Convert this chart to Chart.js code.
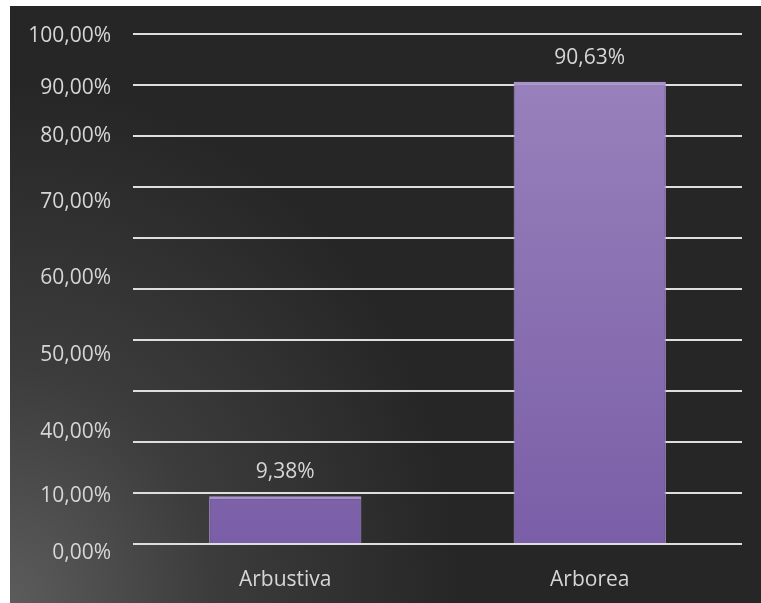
<!DOCTYPE html>
<html>
<head>
<meta charset="utf-8">
<script src="https://cdn.jsdelivr.net/npm/chart.js@4"></script>
<style>
    html, body { margin: 0; padding: 0; background: #ffffff; }
    #wrap {
        position: absolute; left: 10px; top: 6px; width: 751px; height: 597px;
        background: radial-gradient(ellipse 450px 520px at 0% 100%, #5c5c5c 0%, #3c3c3c 45%, #262626 100%);
    }
</style>
</head>
<body>
<div id="wrap"><canvas id="barChart"></canvas></div>
<script>
    // data
    const categories = ['Arbustiva', 'Arborea'];
    const shares = [9.38, 90.63];
    // labels of the value axis, as they sit in the original (irregular)
    const yTickText = ['100,00%', '90,00%', '80,00%', '70,00%', '60,00%', '50,00%', '40,00%', '10,00%', '0,00%'];
    const yTickAt = [99.6, 89.5, 79.9, 67.0, 52.2, 37.1, 22.0, 9.5, -1.7];

    const fmt = v => v.toFixed(2).replace('.', ',') + '%';
    const font = { family: "'Open Sans', sans-serif", size: 21 };
    const textColor = '#d6d6d6';

    // value labels above bars
    const barLabels = {
        id: 'barLabels',
        afterDatasetsDraw(chart) {
            const ctx = chart.ctx;
            const meta = chart.getDatasetMeta(0);
            ctx.save();
            ctx.font = font.size + 'px ' + font.family;
            ctx.fillStyle = textColor;
            ctx.textAlign = 'center';
            ctx.textBaseline = 'middle';
            meta.data.forEach(function (bar, i) {
                ctx.fillText(fmt(shares[i]), bar.x, bar.y - 24);
            });
            ctx.restore();
        }
    };

    const ctx = document.getElementById('barChart').getContext('2d');
    const grad = ctx.createLinearGradient(0, 28, 0, 540);
    grad.addColorStop(0, '#9a84bd');
    grad.addColorStop(1, '#7a5ea7');

    new Chart(ctx, {
        type: 'bar',
        data: {
            labels: categories,
            datasets: [{
                data: shares,
                backgroundColor: grad,
                borderColor: '#a892ca',
                borderWidth: { top: 3, left: 1, right: 1, bottom: 0 },
                borderSkipped: false,
                barPercentage: 0.5,
                categoryPercentage: 1
            }]
        },
        options: {
            responsive: true,
            maintainAspectRatio: false,
            animation: false,
            layout: { padding: { top: 28, right: 19, bottom: 0, left: 0 } },
            plugins: { legend: { display: false }, tooltip: { enabled: false } },
            scales: {
                x: {
                    grid: { display: false },
                    border: { display: false },
                    ticks: { color: textColor, font: font, padding: 15 },
                    afterFit: s => { s.height = 59; s.paddingLeft = 0; s.paddingRight = 0; }
                },
                y: {
                    min: 0, max: 100,
                    position: 'left',
                    weight: 1,
                    ticks: { display: false, stepSize: 10 },
                    grid: { color: '#dedede', lineWidth: 2, drawTicks: false },
                    border: { display: false },
                    afterFit: s => { s.width = 0; s.paddingTop = 0; s.paddingBottom = 0; }
                },
                yLabels: {
                    type: 'linear',
                    min: 0, max: 100,
                    position: 'left',
                    weight: 2,
                    grid: { display: false, drawTicks: false },
                    border: { display: false },
                    ticks: {
                        color: textColor, font: font, padding: 22,
                        callback: (v, i) => yTickText[i]
                    },
                    afterBuildTicks: s => { s.ticks = yTickAt.map(v => ({ value: v })); },
                    afterFit: s => { s.width = 123; s.paddingTop = 0; s.paddingBottom = 0; }
                }
            }
        },
        plugins: [barLabels]
    });
</script>
</body>
</html>
